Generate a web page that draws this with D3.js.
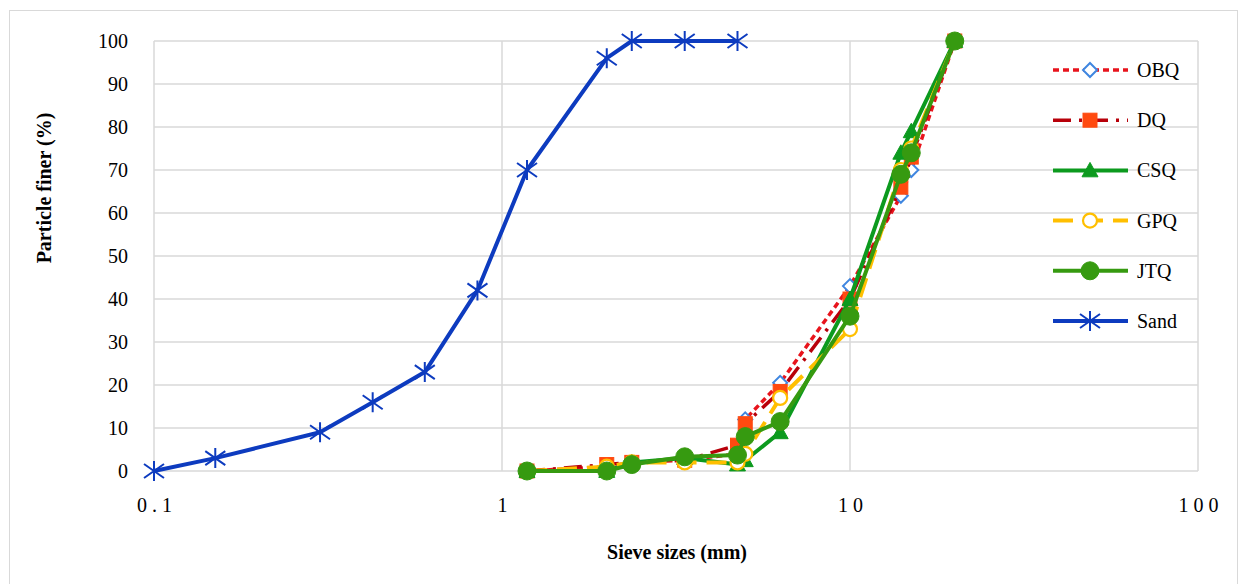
<!DOCTYPE html>
<html lang="en">
<head>
  <meta charset="UTF-8">
  <script src="https://d3js.org/d3.v7.min.js"></script>
  <style>
    body { margin: 0; background: #fff; }
    text { font-family: "Liberation Serif", "Times New Roman", serif; fill: #000; }
    .grid line { stroke: #d9d9d9; stroke-width: 1.5; }
  </style>
  <title>Particle size distribution</title>
</head>
<body>
  <div id="chart"></div>
  <script>
    // sieve sizes (mm)
    var sandSizes = [0.1, 0.15, 0.3, 0.425, 0.6, 0.85, 1.18, 2.0, 2.36, 3.35, 4.75];
    var aggSizes = [1.18, 2.0, 2.36, 3.35, 4.75, 5, 6.3, 10, 14, 15, 20];

    // percent passing
    var obq  = [0, 1, 2, 2.5, 4, 12, 20.5, 43, 64, 70, 100];
    var dq   = [0, 1.5, 2, 2.5, 6, 11, 18.5, 40, 66, 73, 100];
    var csq  = [0, 0, 2, 3, 1.5, 2.5, 9, 40, 74, 79, 100];
    var gpq  = [0, 1, 2, 2, 2, 4, 17, 33, 70, 75, 100];
    var jtq  = [0, 0, 1.5, 3.3, 3.7, 8, 11.5, 36, 69, 74, 100];
    var sand = [0, 3, 9, 16, 23, 42, 70, 96, 100, 100, 100];

    var xTicks = [0.1, 1, 10, 100];
    var yTicks = [0, 10, 20, 30, 40, 50, 60, 70, 80, 90, 100];

    var series = [
      { name: "OBQ", x: aggSizes, y: obq, color: "#e8141c", width: 3.5, dash: "6,4", marker: "diamond", mStroke: "#3f86e0", mFill: "#fff" },
      { name: "DQ", x: aggSizes, y: dq, color: "#b8000a", width: 3.5, dash: "18,8,3,8", marker: "square", mStroke: "#ff4a10", mFill: "#ff4a10" },
      { name: "CSQ", x: aggSizes, y: csq, color: "#0c9a1e", width: 4, dash: null, marker: "triangle", mStroke: "#0c9a1e", mFill: "#0c9a1e" },
      { name: "GPQ", x: aggSizes, y: gpq, color: "#ffbf00", width: 4, dash: "20,10", marker: "circleOpen", mStroke: "#ffbf00", mFill: "#fff" },
      { name: "JTQ", x: aggSizes, y: jtq, color: "#369a10", width: 4, dash: null, marker: "circle", mStroke: "#369a10", mFill: "#369a10" },
      { name: "Sand", x: sandSizes, y: sand, color: "#0d3bbf", width: 4, dash: null, marker: "star", mStroke: "#0d3bbf", mFill: "none" }
    ];

    var width = 1244, height = 584;
    var mLeft = 154, mTop = 41, plotW = 1044, plotH = 430;

    var svg = d3.select("#chart").append("svg")
      .attr("width", width)
      .attr("height", height);

    // outer frame
    svg.append("rect")
      .attr("x", 9.5).attr("y", 10.5)
      .attr("width", 1228).attr("height", 580)
      .attr("fill", "none").attr("stroke", "#d9d9d9");

    var x = d3.scaleLog().domain([0.1, 100]).range([mLeft, mLeft + plotW]);
    var y = d3.scaleLinear().domain([0, 100]).range([mTop + plotH, mTop]);

    // gridlines
    var g = svg.append("g").attr("class", "grid");
    g.selectAll(".h").data(yTicks).enter().append("line")
      .attr("x1", mLeft).attr("x2", mLeft + plotW)
      .attr("y1", function(d) { return y(d); })
      .attr("y2", function(d) { return y(d); });
    g.selectAll(".v").data(xTicks).enter().append("line")
      .attr("y1", mTop).attr("y2", mTop + plotH)
      .attr("x1", function(d) { return x(d); })
      .attr("x2", function(d) { return x(d); });

    // axes (labels only)
    var yAxis = svg.append("g")
      .attr("transform", "translate(" + (mLeft - 23) + ",0)")
      .call(d3.axisLeft(y).tickValues(yTicks).tickSize(0).tickFormat(d3.format("d")));
    yAxis.select(".domain").remove();
    yAxis.selectAll("text").style("font-size", "20px").style("font-family", "Liberation Serif");

    var xAxis = svg.append("g")
      .attr("transform", "translate(0," + (mTop + plotH + 24) + ")")
      .call(d3.axisBottom(x).tickValues(xTicks).tickSize(0).tickFormat(function(d) { return String(d).split("").join(" "); }));
    xAxis.select(".domain").remove();
    xAxis.selectAll("text").style("font-size", "20px").style("font-family", "Liberation Serif");

    // axis titles
    svg.append("text")
      .attr("transform", "translate(51," + (mTop + 147) + ") rotate(-90)")
      .attr("text-anchor", "middle")
      .style("font-size", "20px").style("font-weight", "bold")
      .text("Particle finer (%)");
    svg.append("text")
      .attr("x", 677).attr("y", 559)
      .attr("text-anchor", "middle")
      .style("font-size", "20px").style("font-weight", "bold")
      .text("Sieve sizes (mm)");

    function drawMarker(sel, s, px, py) {
      if (s.marker === "diamond") {
        var r = 7;
        sel.append("path").attr("d", "M" + px + "," + (py - r) + "L" + (px + r) + "," + py + "L" + px + "," + (py + r) + "L" + (px - r) + "," + py + "Z")
          .attr("fill", s.mFill).attr("stroke", s.mStroke).attr("stroke-width", 2);
      } else if (s.marker === "square") {
        var h = 7;
        sel.append("rect").attr("x", px - h).attr("y", py - h).attr("width", 2 * h).attr("height", 2 * h)
          .attr("fill", s.mFill).attr("stroke", s.mStroke);
      } else if (s.marker === "triangle") {
        var t = 8;
        sel.append("path").attr("d", "M" + px + "," + (py - t) + "L" + (px + t) + "," + (py + t * 0.8) + "L" + (px - t) + "," + (py + t * 0.8) + "Z")
          .attr("fill", s.mFill).attr("stroke", s.mStroke);
      } else if (s.marker === "circleOpen") {
        sel.append("circle").attr("cx", px).attr("cy", py).attr("r", 7)
          .attr("fill", s.mFill).attr("stroke", s.mStroke).attr("stroke-width", 2.2);
      } else if (s.marker === "circle") {
        sel.append("circle").attr("cx", px).attr("cy", py).attr("r", 9)
          .attr("fill", s.mFill).attr("stroke", s.mStroke);
      } else if (s.marker === "star") {
        var a = 10;
        sel.append("path")
          .attr("d", "M" + (px - a) + "," + (py - a * 0.7) + "L" + (px + a) + "," + (py + a * 0.7) +
                     "M" + (px - a) + "," + (py + a * 0.7) + "L" + (px + a) + "," + (py - a * 0.7) +
                     "M" + px + "," + (py - a) + "L" + px + "," + (py + a))
          .attr("stroke", s.mStroke).attr("stroke-width", 2).attr("fill", "none");
      }
    }

    var line = d3.line()
      .x(function(d) { return x(d[0]); })
      .y(function(d) { return y(d[1]); });

    series.forEach(function(s) {
      var pts = s.x.map(function(v, i) { return [v, s.y[i]]; });
      var sg = svg.append("g");
      sg.append("path")
        .datum(pts)
        .attr("d", line)
        .attr("fill", "none")
        .attr("stroke", s.color)
        .attr("stroke-width", s.width)
        .attr("stroke-linejoin", "round")
        .attr("stroke-dasharray", s.dash);
      pts.forEach(function(p) { drawMarker(sg, s, x(p[0]), y(p[1])); });
    });

    // legend
    var leg = svg.append("g");
    series.forEach(function(s, i) {
      var ly = 70 + i * 50.2;
      leg.append("line")
        .attr("x1", 1053).attr("x2", 1128)
        .attr("y1", ly).attr("y2", ly)
        .attr("stroke", s.color).attr("stroke-width", s.width)
        .attr("stroke-dasharray", s.dash);
      drawMarker(leg, s, 1090, ly);
      leg.append("text")
        .attr("x", 1137).attr("y", ly + 7)
        .style("font-size", "20px")
        .text(s.name);
    });
  </script>
</body>
</html>
